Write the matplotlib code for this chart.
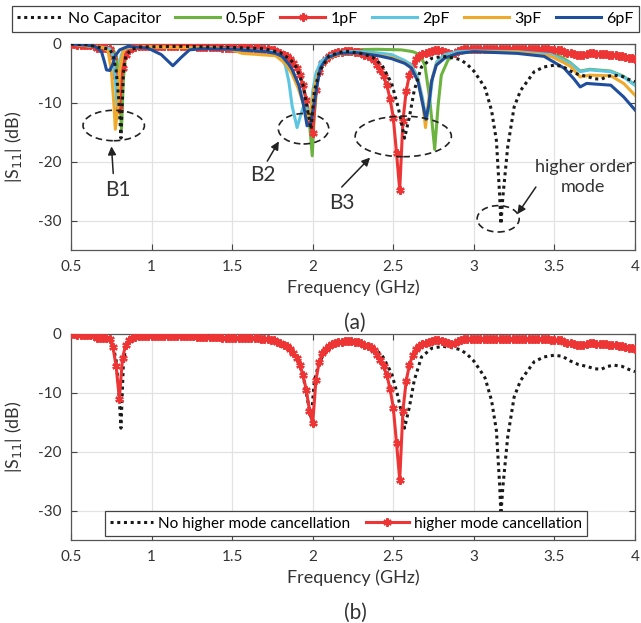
import numpy as np
import matplotlib
matplotlib.use("Agg")
import matplotlib.pyplot as plt
from matplotlib.patches import Ellipse

plt.rcParams['font.family'] = ['Lato', 'DejaVu Sans']

# ---------------- data ----------------
# 1 pF (also "higher mode cancellation"), sampled every 0.02 GHz from 0.5 to 4.0
v_1pF = [
    0, 0, -0.1, -0.1, -0.1, -0.1, -0.2, -0.3, -0.6, -0.7,
    -0.7, -0.7, -0.9, -2.2, -5.5, -11.0, -4.0, -1.8, -1.0, -0.7,
    -0.5, -0.4, -0.3, -0.3, -0.3, -0.3, -0.3, -0.3, -0.3, -0.3,
    -0.3, -0.4, -0.4, -0.4, -0.4, -0.4, -0.4, -0.4, -0.4, -0.5,
    -0.5, -0.5, -0.5, -0.5, -0.5, -0.5, -0.5, -0.6, -0.6, -0.6,
    -0.6, -0.6, -0.6, -0.6, -0.6, -0.6, -0.7, -0.7, -0.7, -0.8,
    -0.8, -0.9, -1.0, -1.1, -1.3, -1.5, -1.8, -2.1, -2.6, -3.2,
    -4.0, -5.2, -7.0, -9.5, -13.0, -15.2, -7.8, -4.8, -3.3, -2.6,
    -2.0, -1.7, -1.5, -1.4, -1.3, -1.2, -1.2, -1.2, -1.3, -1.4,
    -1.6, -1.8, -2.0, -2.2, -2.8, -3.6, -4.5, -5.5, -7.0, -9.3,
    -12.5, -18.5, -24.8, -13.0, -8.0, -5.3, -3.6, -2.6, -2.0, -1.7,
    -1.5, -1.3, -1.2, -1.1, -1.1, -1.2, -1.4, -1.6, -1.7, -1.5,
    -1.2, -1.0, -0.9, -0.9, -0.8, -0.8, -0.8, -0.8, -0.8, -0.8,
    -0.8, -0.8, -0.8, -0.8, -0.8, -0.8, -0.8, -0.8, -0.8, -0.8,
    -0.8, -0.8, -0.8, -0.8, -0.8, -0.8, -0.9, -0.9, -0.9, -1.0,
    -1.0, -1.1, -1.1, -1.3, -1.5, -1.6, -1.7, -1.8, -1.9, -1.8,
    -1.7, -1.6, -1.6, -1.7, -1.7, -1.7, -1.7, -1.8, -1.8, -1.9,
    -2.0, -2.1, -2.2, -2.3, -2.4, -2.5,
]
f_1pF = np.linspace(0.5, 4.0, len(v_1pF))

# No capacitor (also "No higher mode cancellation")
f_nocap = [0.5, 0.6, 0.66, 0.7, 0.74, 0.76, 0.78, 0.795, 0.81, 0.825, 0.84, 0.87, 0.92,
           1.2, 1.5, 1.7, 1.8, 1.86, 1.9, 1.94, 1.97, 1.99, 2.01, 2.04, 2.1, 2.2, 2.3,
           2.37, 2.43, 2.49, 2.53, 2.57, 2.60, 2.63, 2.675, 2.74, 2.81, 2.88, 2.92,
           2.96, 3.0, 3.04, 3.07, 3.11, 3.14, 3.16, 3.168, 3.18, 3.21, 3.25, 3.29,
           3.33, 3.375, 3.435, 3.5, 3.55, 3.6, 3.65, 3.7, 3.75, 3.79, 3.83, 3.87,
           3.92, 3.96, 4.0]
v_nocap = [0, -0.1, -0.5, -0.7, -0.9, -1.8, -4.5, -9.0, -16.0, -5.0, -2.0, -1.0, -0.5,
           -0.4, -0.6, -0.8, -1.5, -2.6, -4.0, -7.0, -11.5, -14.5, -8.0, -4.8, -2.0, -1.2, -1.6,
           -2.2, -3.6, -6.7, -10.7, -16.0, -12.4, -7.9, -3.9, -2.4, -2.1, -2.4, -2.7,
           -3.5, -4.6, -6.2, -7.5, -11.3, -16.4, -25.6, -30.6, -26.0, -17.5, -10.7, -7.9,
           -6.4, -4.7, -3.9, -3.6, -3.8, -4.6, -5.2, -5.5, -5.9, -6.0, -5.5, -5.3,
           -5.5, -6.0, -6.4]

f_05pF = [0.5, 0.6, 0.7, 0.76, 0.785, 0.80, 0.813, 0.825, 0.84, 0.87, 0.95, 1.2, 1.5,
          1.7, 1.8, 1.86, 1.9, 1.94, 1.97, 1.985, 1.997, 2.01, 2.03, 2.06, 2.1, 2.2,
          2.4, 2.55, 2.62, 2.665, 2.696, 2.726, 2.757, 2.778, 2.798, 2.84, 2.9, 3.0,
          3.2, 3.4, 3.5, 3.56, 3.6, 3.66, 3.72, 3.85, 3.93, 4.0]
v_05pF = [0, -0.3, -0.6, -0.8, -2.5, -8.0, -14.5, -6.0, -1.5, -0.7, -0.5, -0.6, -0.8,
          -1.0, -1.6, -2.6, -4.0, -7.0, -11.0, -15.0, -19.0, -12.0, -6.0, -3.0, -1.8, -1.0,
          -0.9, -1.0, -1.3, -1.8, -3.6, -9.3, -17.9, -10.5, -5.3, -2.7, -1.6, -1.3,
          -1.2, -1.3, -1.7, -2.5, -3.2, -4.6, -4.3, -4.6, -5.5, -7.0]

f_2pF = [0.5, 0.6, 0.7, 0.74, 0.76, 0.775, 0.785, 0.795, 0.81, 0.83, 0.87, 1.0, 1.2,
         1.4, 1.6, 1.75, 1.79, 1.83, 1.852, 1.872, 1.903, 1.924, 1.944, 1.965, 1.985,
         2.0, 2.02, 2.05, 2.1, 2.2, 2.3, 2.4, 2.49, 2.57, 2.61, 2.65, 2.68, 2.705,
         2.725, 2.745, 2.77, 2.82, 2.9, 3.0, 3.27, 3.48, 3.56, 3.6, 3.66, 3.72, 3.85,
         3.93, 4.0]
v_2pF = [0, -0.3, -0.6, -0.8, -2.0, -6.0, -10.5, -6.0, -2.0, -0.8, -0.6, -0.5, -0.6,
         -0.7, -1.0, -1.3, -1.8, -3.6, -6.4, -10.5, -14.2, -12.2, -10.5, -11.0, -12.0,
         -8.0, -5.0, -3.0, -2.0, -1.3, -1.3, -1.5, -1.8, -2.8, -3.5, -5.5, -9.0, -13.0,
         -10.0, -5.5, -3.0, -1.8, -1.3, -1.2, -1.3, -1.8, -2.8, -3.3, -4.7, -4.4, -4.7,
         -5.6, -7.0]

f_3pF = [0.5, 0.6, 0.7, 0.73, 0.751, 0.767, 0.775, 0.792, 0.80, 0.823, 0.84, 0.9, 1.0,
         1.2, 1.4, 1.5, 1.563, 1.667, 1.77, 1.83, 1.87, 1.91, 1.94, 1.96, 1.975, 1.99,
         2.01, 2.04, 2.09, 2.16, 2.28, 2.4, 2.49, 2.57, 2.613, 2.654, 2.685, 2.70,
         2.715, 2.737, 2.767, 2.82, 2.9, 3.0, 3.27, 3.48, 3.56, 3.6, 3.66, 3.72, 3.85,
         3.93, 4.0]
v_3pF = [0, -0.3, -0.6, -1.2, -4.7, -10.5, -14.5, -10.5, -4.7, -1.3, -0.6, -0.5, -0.5,
         -0.6, -0.7, -1.0, -1.6, -1.8, -2.0, -3.3, -5.0, -7.5, -10.0, -12.0, -12.8, -11.0,
         -7.5, -4.5, -2.5, -1.7, -1.5, -1.9, -2.3, -3.2, -4.0, -6.3, -10.5, -14.2,
         -10.5, -6.3, -3.5, -2.3, -1.6, -1.3, -1.4, -2.1, -3.2, -3.8, -5.6, -5.3, -5.4,
         -6.7, -8.7]

f_6pF = [0.5, 0.6, 0.648, 0.689, 0.71, 0.72, 0.741, 0.761, 0.772, 0.802, 0.854, 0.977,
         1.06, 1.132, 1.183, 1.235, 1.307, 1.5, 1.708, 1.77, 1.81, 1.85, 1.872, 1.914,
         1.944, 1.965, 1.986, 2.006, 2.027, 2.047, 2.088, 2.16, 2.28, 2.407, 2.49,
         2.572, 2.613, 2.654, 2.685, 2.702, 2.72, 2.737, 2.767, 2.819, 2.9, 3.0, 3.27,
         3.436, 3.56, 3.62, 3.66, 3.70, 3.85, 3.93, 4.0]
v_6pF = [0, -0.2, -0.4, -1.3, -3.3, -4.4, -4.5, -3.3, -2.1, -1.0, -0.4, -0.7,
         -1.8, -3.7, -2.3, -1.0, -0.8, -0.9, -1.3, -1.6, -2.1, -3.4, -4.3, -7.0,
         -10.5, -13.9, -13.6, -10.5, -7.0, -4.1, -2.4, -1.6, -1.5, -2.0, -2.5,
         -3.3, -4.1, -6.4, -10.5, -12.8, -10.5, -6.4, -3.6, -2.4, -1.6, -1.3, -1.6,
         -2.1, -4.1, -5.9, -7.3, -6.7, -7.0, -9.0, -11.2]

x_ticks = [0.5, 1, 1.5, 2, 2.5, 3, 3.5, 4]
x_ticklabels = ['0.5', '1', '1.5', '2', '2.5', '3', '3.5', '4']
y_ticks = [-30, -20, -10, 0]
y_ticklabels = ['-30', '-20', '-10', '0']

labels_top = ['No Capacitor', '0.5pF', '1pF', '2pF', '3pF', '6pF']
labels_bottom = ['No higher mode cancellation', 'higher mode cancellation']

# ---------------- style ----------------
c_black = '#1a1a1a'
c_green = '#6cb33f'
c_red = '#ee3535'
c_cyan = '#5cc6e2'
c_orange = '#efaa2c'
c_blue = '#1f4e9c'
txt = '#333333'
LW = 2.2

fig = plt.figure(figsize=(6.41, 6.23), dpi=100)
AX_L, AX_W = 0.1108, 0.8798
ax1 = fig.add_axes([AX_L, 0.5987, AX_W, 0.3307])
ax2 = fig.add_axes([AX_L, 0.1332, AX_W, 0.3307])


def style(ax):
    ax.set_xlim(0.5, 4)
    ax.set_ylim(-35, 0)
    ax.set_xticks(x_ticks)
    ax.set_xticklabels(x_ticklabels)
    ax.set_yticks(y_ticks)
    ax.set_yticklabels(y_ticklabels)
    ax.grid(True, color='#e2e2e2', lw=0.9)
    ax.set_axisbelow(True)
    ax.tick_params(direction='in', top=True, right=True, length=4, width=0.8,
                   color='#444444', labelcolor=txt, labelsize=11, pad=7)
    for s in ax.spines.values():
        s.set_color('#555555')
        s.set_linewidth(0.9)
    ax.set_xlabel('Frequency (GHz)', fontsize=13, color=txt, labelpad=4)
    ax.set_ylabel('|S$_{11}$| (dB)', fontsize=13, color=txt)
    ax.yaxis.set_label_coords(-0.083, 0.5)


dots = (0, (1, 1.2))
marker_red = dict(marker=(6, 2, 0), markersize=6, markeredgewidth=1.6)

# ---- top panel
l_nc, = ax1.plot(f_nocap, v_nocap, color=c_black, lw=LW, ls=dots, zorder=8)
l_g, = ax1.plot(f_05pF, v_05pF, color=c_green, lw=LW, zorder=3)
l_r, = ax1.plot(f_1pF, v_1pF, color=c_red, lw=LW, zorder=4, **marker_red)
l_c, = ax1.plot(f_2pF, v_2pF, color=c_cyan, lw=LW, zorder=5)
l_o, = ax1.plot(f_3pF, v_3pF, color=c_orange, lw=LW, zorder=6)
l_b, = ax1.plot(f_6pF, v_6pF, color=c_blue, lw=LW, zorder=7)
style(ax1)

fig.legend([l_nc, l_g, l_r, l_c, l_o, l_b], labels_top, loc='center',
           bbox_to_anchor=(325.5 / 641, 1 - 19 / 623), ncol=6, fontsize=11.5,
           frameon=True, fancybox=False, edgecolor='#444444', framealpha=1,
           handlelength=2.8, handletextpad=0.35, columnspacing=0.9,
           borderpad=0.35, numpoints=1).get_frame().set_linewidth(0.9)

# annotations
ell_kw = dict(fill=False, ls=(0, (4, 2.5)), lw=1.2, ec='#222222', zorder=10)
for (cx, cy, w, h) in [(0.765, -13.85, 0.381, 5.17), (1.943, -14.4, 0.313, 5.17),
                       (2.562, -15.7, 0.597, 6.9), (3.151, -29.7, 0.261, 4.48)]:
    ax1.add_patch(Ellipse((cx, cy), w, h, **ell_kw))

arr = dict(arrowstyle='-|>', color='#222222', lw=1.1, mutation_scale=12,
           shrinkA=0, shrinkB=0)
ax1.annotate('', xy=(0.751, -17.4), xytext=(0.762, -22.0), arrowprops=arr, zorder=10)
ax1.annotate('', xy=(1.79, -16.55), xytext=(1.718, -19.9), arrowprops=arr, zorder=10)
ax1.annotate('', xy=(2.356, -19.3), xytext=(2.18, -24.3), arrowprops=arr, zorder=10)
ax1.annotate('', xy=(3.27, -28.9), xytext=(3.385, -24.3), arrowprops=arr, zorder=10)
tk = dict(fontsize=15, color=txt, ha='center', va='center', zorder=11)
ax1.text(0.79, -24.8, 'B1', **tk)
ax1.text(1.69, -22.2, 'B2', **tk)
ax1.text(2.18, -27.0, 'B3', **tk)
ax1.text(3.68, -22.6, 'higher order\nmode', fontsize=13, color=txt, ha='center',
         va='center', linespacing=1.25, zorder=11)

fig.text(355 / 641, 1 - 323 / 623, '(a)', fontsize=15, color=txt,
         ha='center', va='center')

# ---- bottom panel
m_nc, = ax2.plot(f_nocap, v_nocap, color=c_black, lw=LW, ls=dots, zorder=3)
m_r, = ax2.plot(f_1pF, v_1pF, color=c_red, lw=LW, zorder=4, **marker_red)
style(ax2)
leg2 = ax2.legend([m_nc, m_r], labels_bottom, loc='lower left',
                  bbox_to_anchor=(0.06, 0.02), ncol=2, fontsize=11,
                  frameon=True, fancybox=False, edgecolor='#444444', framealpha=1,
                  handlelength=2.8, handletextpad=0.35, columnspacing=1.0,
                  borderpad=0.35, borderaxespad=0, numpoints=1)
leg2.get_frame().set_linewidth(0.9)
leg2.set_zorder(20)

fig.text(355 / 641, 1 - 613 / 623, '(b)', fontsize=15, color=txt,
         ha='center', va='center')

fig.savefig('out.png', dpi=100)
